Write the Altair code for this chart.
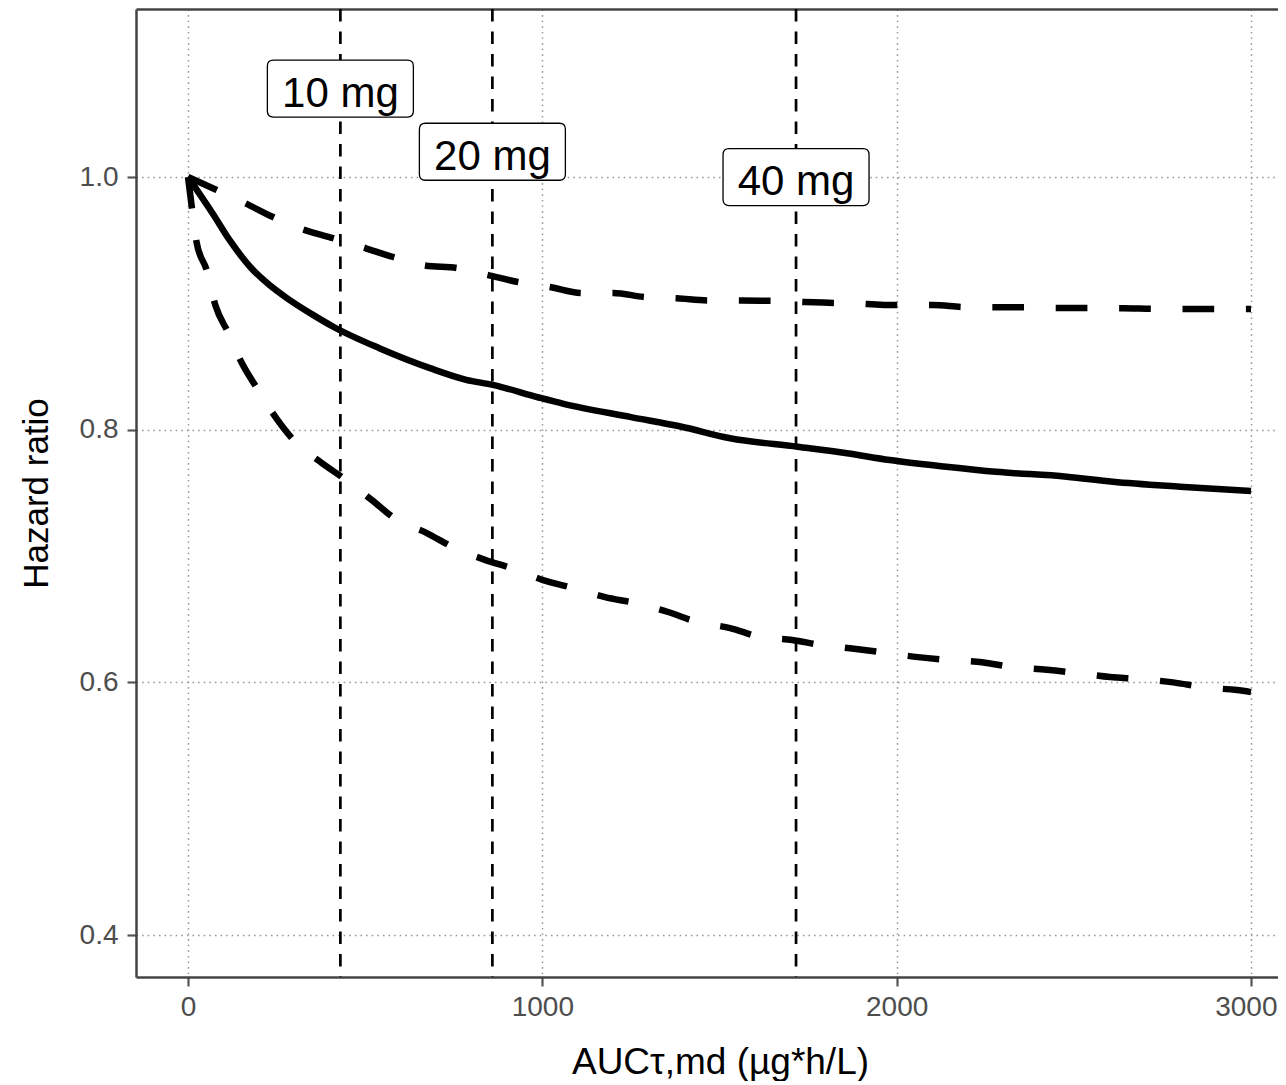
import altair as alt
import pandas as pd

# ---------------- data ----------------
auc_mid = [0, 70, 120, 175, 230, 280, 355, 410, 540, 685, 785, 860, 990, 1060, 1250, 1390,
           1530, 1720, 1860, 1980, 2140, 2280, 2480, 2610, 2800, 3000]
hr_mid = [1.0, 0.971, 0.949, 0.929, 0.9145, 0.904, 0.8905, 0.8815, 0.8645, 0.8485, 0.8395,
          0.8355, 0.8255, 0.8205, 0.810, 0.8025, 0.7932, 0.7865, 0.7813, 0.776, 0.7707,
          0.7667, 0.7628, 0.7588, 0.7549, 0.7515]

auc_hi = [0, 81, 161, 240, 330, 409, 500, 579, 669, 759, 847, 931, 1022, 1112, 1200, 1290,
          1380, 1468, 1563, 1651, 1741, 1832, 1919, 1981, 2103, 2193, 2283, 2371, 2461,
          2551, 2640, 2730, 2820, 2910, 3000]
hr_hi = [1.0, 0.9897, 0.9794, 0.9683, 0.958, 0.9517, 0.9438, 0.9367, 0.930, 0.928, 0.9224,
         0.9169, 0.9129, 0.9082, 0.9082, 0.905, 0.9040, 0.9023, 0.9022, 0.9020, 0.9011,
         0.9003, 0.8995, 0.8987, 0.8987, 0.8971, 0.8970, 0.8968, 0.8963, 0.8963, 0.8962,
         0.8956, 0.8955, 0.8955, 0.8955]

auc_lo = [0, 11, 24, 53, 77, 114, 152, 198, 246, 302, 378, 437, 519, 590, 674, 748, 838,
          917, 1002, 1087, 1177, 1262, 1355, 1437, 1530, 1614, 1705, 1789, 1868, 1953, 2060,
          2150, 2241, 2328, 2424, 2509, 2602, 2687, 2780, 2870, 2960, 3000]
hr_lo = [1.0, 0.9755, 0.9486, 0.926, 0.8987, 0.8765, 0.8528, 0.8314, 0.8103, 0.7905, 0.7736,
         0.762, 0.7443, 0.7285, 0.7182, 0.707, 0.697, 0.690, 0.681, 0.6747, 0.6675, 0.6628,
         0.6557, 0.6477, 0.643, 0.636, 0.6335, 0.6295, 0.627, 0.624, 0.620, 0.6177, 0.616,
         0.612, 0.610, 0.6074, 0.6042, 0.6026, 0.600, 0.596, 0.5939, 0.5923]

dose_labels = ["10 mg", "20 mg", "40 mg"]
dose_auc = [430, 859, 1716]
label_hr = [1.07, 1.02, 1.0]

x_ticks = [0, 1000, 2000, 3000]
y_ticks = [0.4, 0.6, 0.8, 1.0]

X_DOMAIN = [-146.8, 3076.2]
Y_DOMAIN = [0.3668, 1.1330]

# ---------------- tables ----------------
mid_df = pd.DataFrame({"auc": auc_mid, "hr": hr_mid, "order": range(len(auc_mid))})
ci_df = pd.concat([
    pd.DataFrame({"auc": auc_hi, "hr": hr_hi, "series": "upper", "order": range(len(auc_hi))}),
    pd.DataFrame({"auc": auc_lo, "hr": hr_lo, "series": "lower", "order": range(len(auc_lo))}),
], ignore_index=True)
dose_df = pd.DataFrame({"label": dose_labels, "auc": dose_auc, "hr": label_hr})

FONT = "Liberation Sans"
xs = alt.Scale(domain=X_DOMAIN, nice=False, zero=False)
ys = alt.Scale(domain=Y_DOMAIN, nice=False, zero=False)

grid_kw = dict(grid=True, gridColor="#9a9a9a", gridDash=[1.6, 4.0], gridWidth=1.5)

x_axis = alt.Axis(orient="bottom", values=x_ticks, format="d", title="AUCτ,md (µg*h/L)",
                  labelFont=FONT, labelFontSize=28, labelColor="#4d4d4d", labelPadding=7,
                  labelFlush=30, labelFlushOffset=26,
                  tickSize=9, tickWidth=2.2, tickColor="#555555",
                  domainColor="#444444", domainWidth=2.5,
                  titleFont=FONT, titleFontSize=37, titleFontWeight="normal", titleColor="black",
                  titlePadding=23, titleX=584, **grid_kw)
y_axis = alt.Axis(orient="left", values=y_ticks, format=".1f", title="Hazard ratio",
                  labelFont=FONT, labelFontSize=28, labelColor="#4d4d4d", labelPadding=9,
                  tickSize=9, tickWidth=2.2, tickColor="#555555",
                  domainColor="#444444", domainWidth=2.5,
                  titleFont=FONT, titleFontSize=35, titleFontWeight="normal", titleColor="black",
                  titlePadding=25, **grid_kw)
top_axis = alt.Axis(orient="top", labels=False, ticks=False, grid=False, title=None,
                    domain=True, domainColor="#444444", domainWidth=2.5)

vlines = alt.Chart(dose_df).mark_rule(color="black", strokeWidth=2.7, strokeDash=[12.5, 10]).encode(
    x=alt.X("auc:Q", scale=xs, axis=top_axis),
)

ci_lines = alt.Chart(ci_df).mark_line(color="black", strokeWidth=6.5, strokeDash=[31.7, 31.7],
                                      strokeCap="butt", interpolate="monotone").encode(
    x=alt.X("auc:Q", scale=xs, axis=x_axis),
    y=alt.Y("hr:Q", scale=ys, axis=y_axis),
    detail="series:N",
    order="order:Q",
)

mid_line = alt.Chart(mid_df).mark_line(color="black", strokeWidth=6.5, strokeJoin="round",
                                       interpolate="monotone").encode(
    x=alt.X("auc:Q", scale=xs, axis=None),
    y=alt.Y("hr:Q", scale=ys, axis=y_axis),
    order="order:Q",
)

BOX = ("M -67 -28.5 L 67 -28.5 Q 73 -28.5 73 -22.5 L 73 22.5 Q 73 28.5 67 28.5 "
       "L -67 28.5 Q -73 28.5 -73 22.5 L -73 -22.5 Q -73 -28.5 -67 -28.5 Z")

boxes = alt.Chart(dose_df).mark_point(shape=BOX, size=4, filled=True, fill="white", stroke="black",
                                      strokeWidth=1.3, opacity=1, fillOpacity=1).encode(
    x=alt.X("auc:Q", scale=xs, axis=None),
    y=alt.Y("hr:Q", scale=ys, axis=y_axis),
)

texts = alt.Chart(dose_df).mark_text(font=FONT, fontSize=42, color="black", baseline="middle",
                                     align="center", dy=5).encode(
    x=alt.X("auc:Q", scale=xs, axis=None),
    y=alt.Y("hr:Q", scale=ys, axis=y_axis),
    text="label:N",
)

chart = alt.layer(vlines, ci_lines, mid_line, boxes, texts).resolve_axis(
    x="independent", y="shared"
).properties(
    width=1142, height=968,
    autosize=alt.AutoSizeParams(type="none"),
    padding={"left": 128, "top": 1, "right": 0, "bottom": 104},
    background="white",
).configure_view(stroke=None)

chart.save("out.html", embed_options={"renderer": "svg", "actions": False})
